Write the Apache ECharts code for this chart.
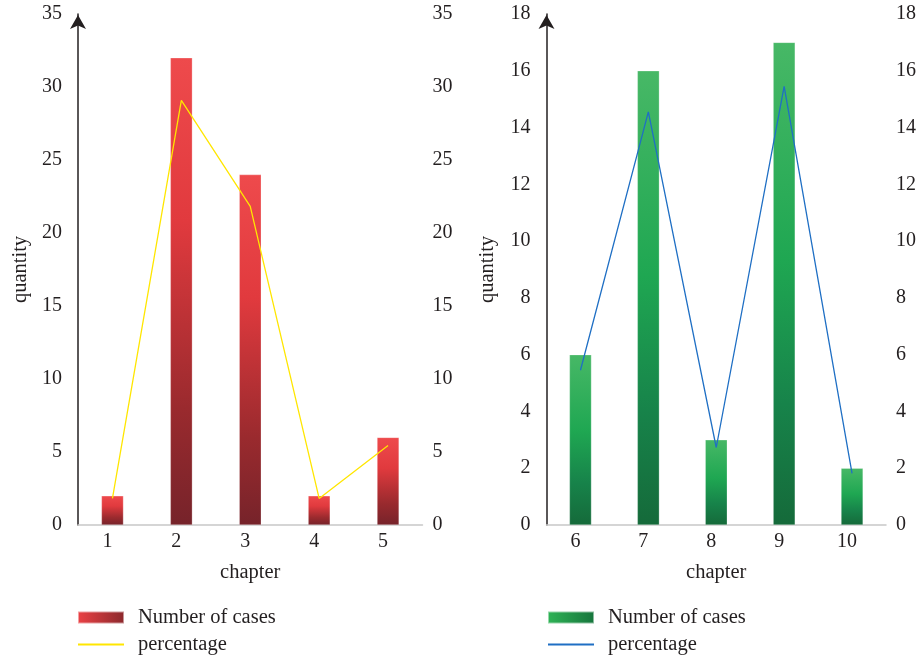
<!DOCTYPE html>
<html>
<head>
<meta charset="utf-8">
<script src="https://cdn.jsdelivr.net/npm/echarts@6/dist/echarts.min.js"></script>
<style>
html,body{margin:0;padding:0;background:#fff;}
#c{width:919px;height:661px;}
</style>
</head>
<body>
<div id="c"></div>
<script>
// ---- data ----
var chaptersA = ['1', '2', '3', '4', '5'];
var casesA = [2, 32, 24, 2, 6];
var percentA = [1.82, 29.09, 21.82, 1.82, 5.45];

var chaptersB = ['6', '7', '8', '9', '10'];
var casesB = [6, 16, 3, 17, 2];
var percentB = [5.45, 14.55, 2.73, 15.45, 1.82];

var yTicksA = {min: 0, max: 35, interval: 5};
var yTicksB = {min: 0, max: 18, interval: 2};

var FONT = '"Liberation Serif", "DejaVu Serif", serif';
var TXT = '#231f20';

function vGrad(stops) {
  return new echarts.graphic.LinearGradient(0, 0, 0, 1, stops);
}
function hGrad(stops) {
  return new echarts.graphic.LinearGradient(0, 0, 1, 0, stops);
}
var redBar = vGrad([
  {offset: 0, color: '#ee4a4c'},
  {offset: 0.35, color: '#e13a3e'},
  {offset: 0.75, color: '#9a2a2e'},
  {offset: 1, color: '#76232a'}
]);
var greenBar = vGrad([
  {offset: 0, color: '#47b866'},
  {offset: 0.45, color: '#1fa752'},
  {offset: 0.75, color: '#17834a'},
  {offset: 1, color: '#156a3a'}
]);
var redLeg = hGrad([{offset: 0, color: '#ec4245'}, {offset: 1, color: '#8a282c'}]);
var greenLeg = hGrad([{offset: 0, color: '#2fb456'}, {offset: 1, color: '#16743c'}]);

var TICK_FS = 20;
var NAME_FS = 20.5;

function makeXAxis(idx, cats) {
  return {
    type: 'category', gridIndex: idx, data: cats,
    name: 'chapter', nameLocation: 'middle', nameGap: 37,
    nameTextStyle: {fontFamily: FONT, fontSize: NAME_FS, color: TXT},
    axisLine: {show: true, lineStyle: {color: '#c8c8c8', width: 1.5}},
    axisTick: {show: false},
    axisLabel: {fontFamily: FONT, fontSize: TICK_FS, color: TXT, margin: 7, padding: [0, 10, 0, 0]}
  };
}
function makeYAxisLeft(idx, t, gap) {
  return {
    type: 'value', gridIndex: idx, min: t.min, max: t.max, interval: t.interval,
    name: 'quantity', nameLocation: 'middle', nameGap: gap, nameRotate: 90,
    nameTextStyle: {fontFamily: FONT, fontSize: NAME_FS, color: TXT},
    axisLine: {show: true, symbol: ['none', 'arrow'], symbolSize: [12, 14], symbolOffset: [0, -1],
      lineStyle: {color: TXT, width: 1.5}},
    axisTick: {show: false},
    splitLine: {show: false},
    axisLabel: {fontFamily: FONT, fontSize: TICK_FS, color: TXT, margin: 16}
  };
}
function makeYAxisRight(idx, t) {
  return {
    type: 'value', gridIndex: idx, position: 'right', min: t.min, max: t.max, interval: t.interval,
    axisLine: {show: false}, axisTick: {show: false}, splitLine: {show: false},
    axisLabel: {fontFamily: FONT, fontSize: TICK_FS, color: TXT, margin: 10}
  };
}
function makeLegend(leftPx, barName, lineName, grad) {
  return {
    left: leftPx, top: 607, orient: 'vertical', padding: 0,
    itemWidth: 46, itemHeight: 12, itemGap: 6,
    textStyle: {fontFamily: FONT, fontSize: NAME_FS, color: TXT, lineHeight: 21, padding: [0, 0, 0, 9]},
    data: [
      {name: barName, icon: 'rect', itemStyle: {color: grad}},
      {name: lineName, itemStyle: {opacity: 0}}
    ]
  };
}

var option = {
  backgroundColor: '#ffffff',
  animation: false,
  grid: [
    {left: 78, right: 496.5, top: 14, bottom: 136},
    {left: 546.5, right: 27.5, top: 14, bottom: 136}
  ],
  xAxis: [makeXAxis(0, chaptersA), makeXAxis(1, chaptersB)],
  yAxis: [
    makeYAxisLeft(0, yTicksA, 47), makeYAxisRight(0, yTicksA),
    makeYAxisLeft(1, yTicksB, 48), makeYAxisRight(1, yTicksB)
  ],
  legend: [
    makeLegend(77, 'Number of cases', 'percentage', redLeg),
    makeLegend(547, 'Number of cases ', 'percentage ', greenLeg)
  ],
  series: [
    {
      name: 'Number of cases', type: 'bar', xAxisIndex: 0, yAxisIndex: 0, data: casesA,
      barWidth: 22, itemStyle: {color: redBar, borderColor: 'rgba(255,255,255,0.5)', borderWidth: 0.5}
    },
    {
      name: 'percentage', type: 'line', xAxisIndex: 0, yAxisIndex: 1, data: percentA,
      symbol: 'circle', showSymbol: false,
      lineStyle: {color: '#ffe600', width: 1.3}, itemStyle: {color: '#ffe600'}, z: 5
    },
    {
      name: 'Number of cases ', type: 'bar', xAxisIndex: 1, yAxisIndex: 2, data: casesB,
      barWidth: 22, itemStyle: {color: greenBar, borderColor: 'rgba(255,255,255,0.5)', borderWidth: 0.5}
    },
    {
      name: 'percentage ', type: 'line', xAxisIndex: 1, yAxisIndex: 3, data: percentB,
      symbol: 'circle', showSymbol: false,
      lineStyle: {color: '#1f6fc4', width: 1.3}, itemStyle: {color: '#1f6fc4'}, z: 5
    }
  ]
};
var chart = echarts.init(document.getElementById('c'), null, {renderer: 'canvas'});
chart.setOption(option);
</script>
</body>
</html>
